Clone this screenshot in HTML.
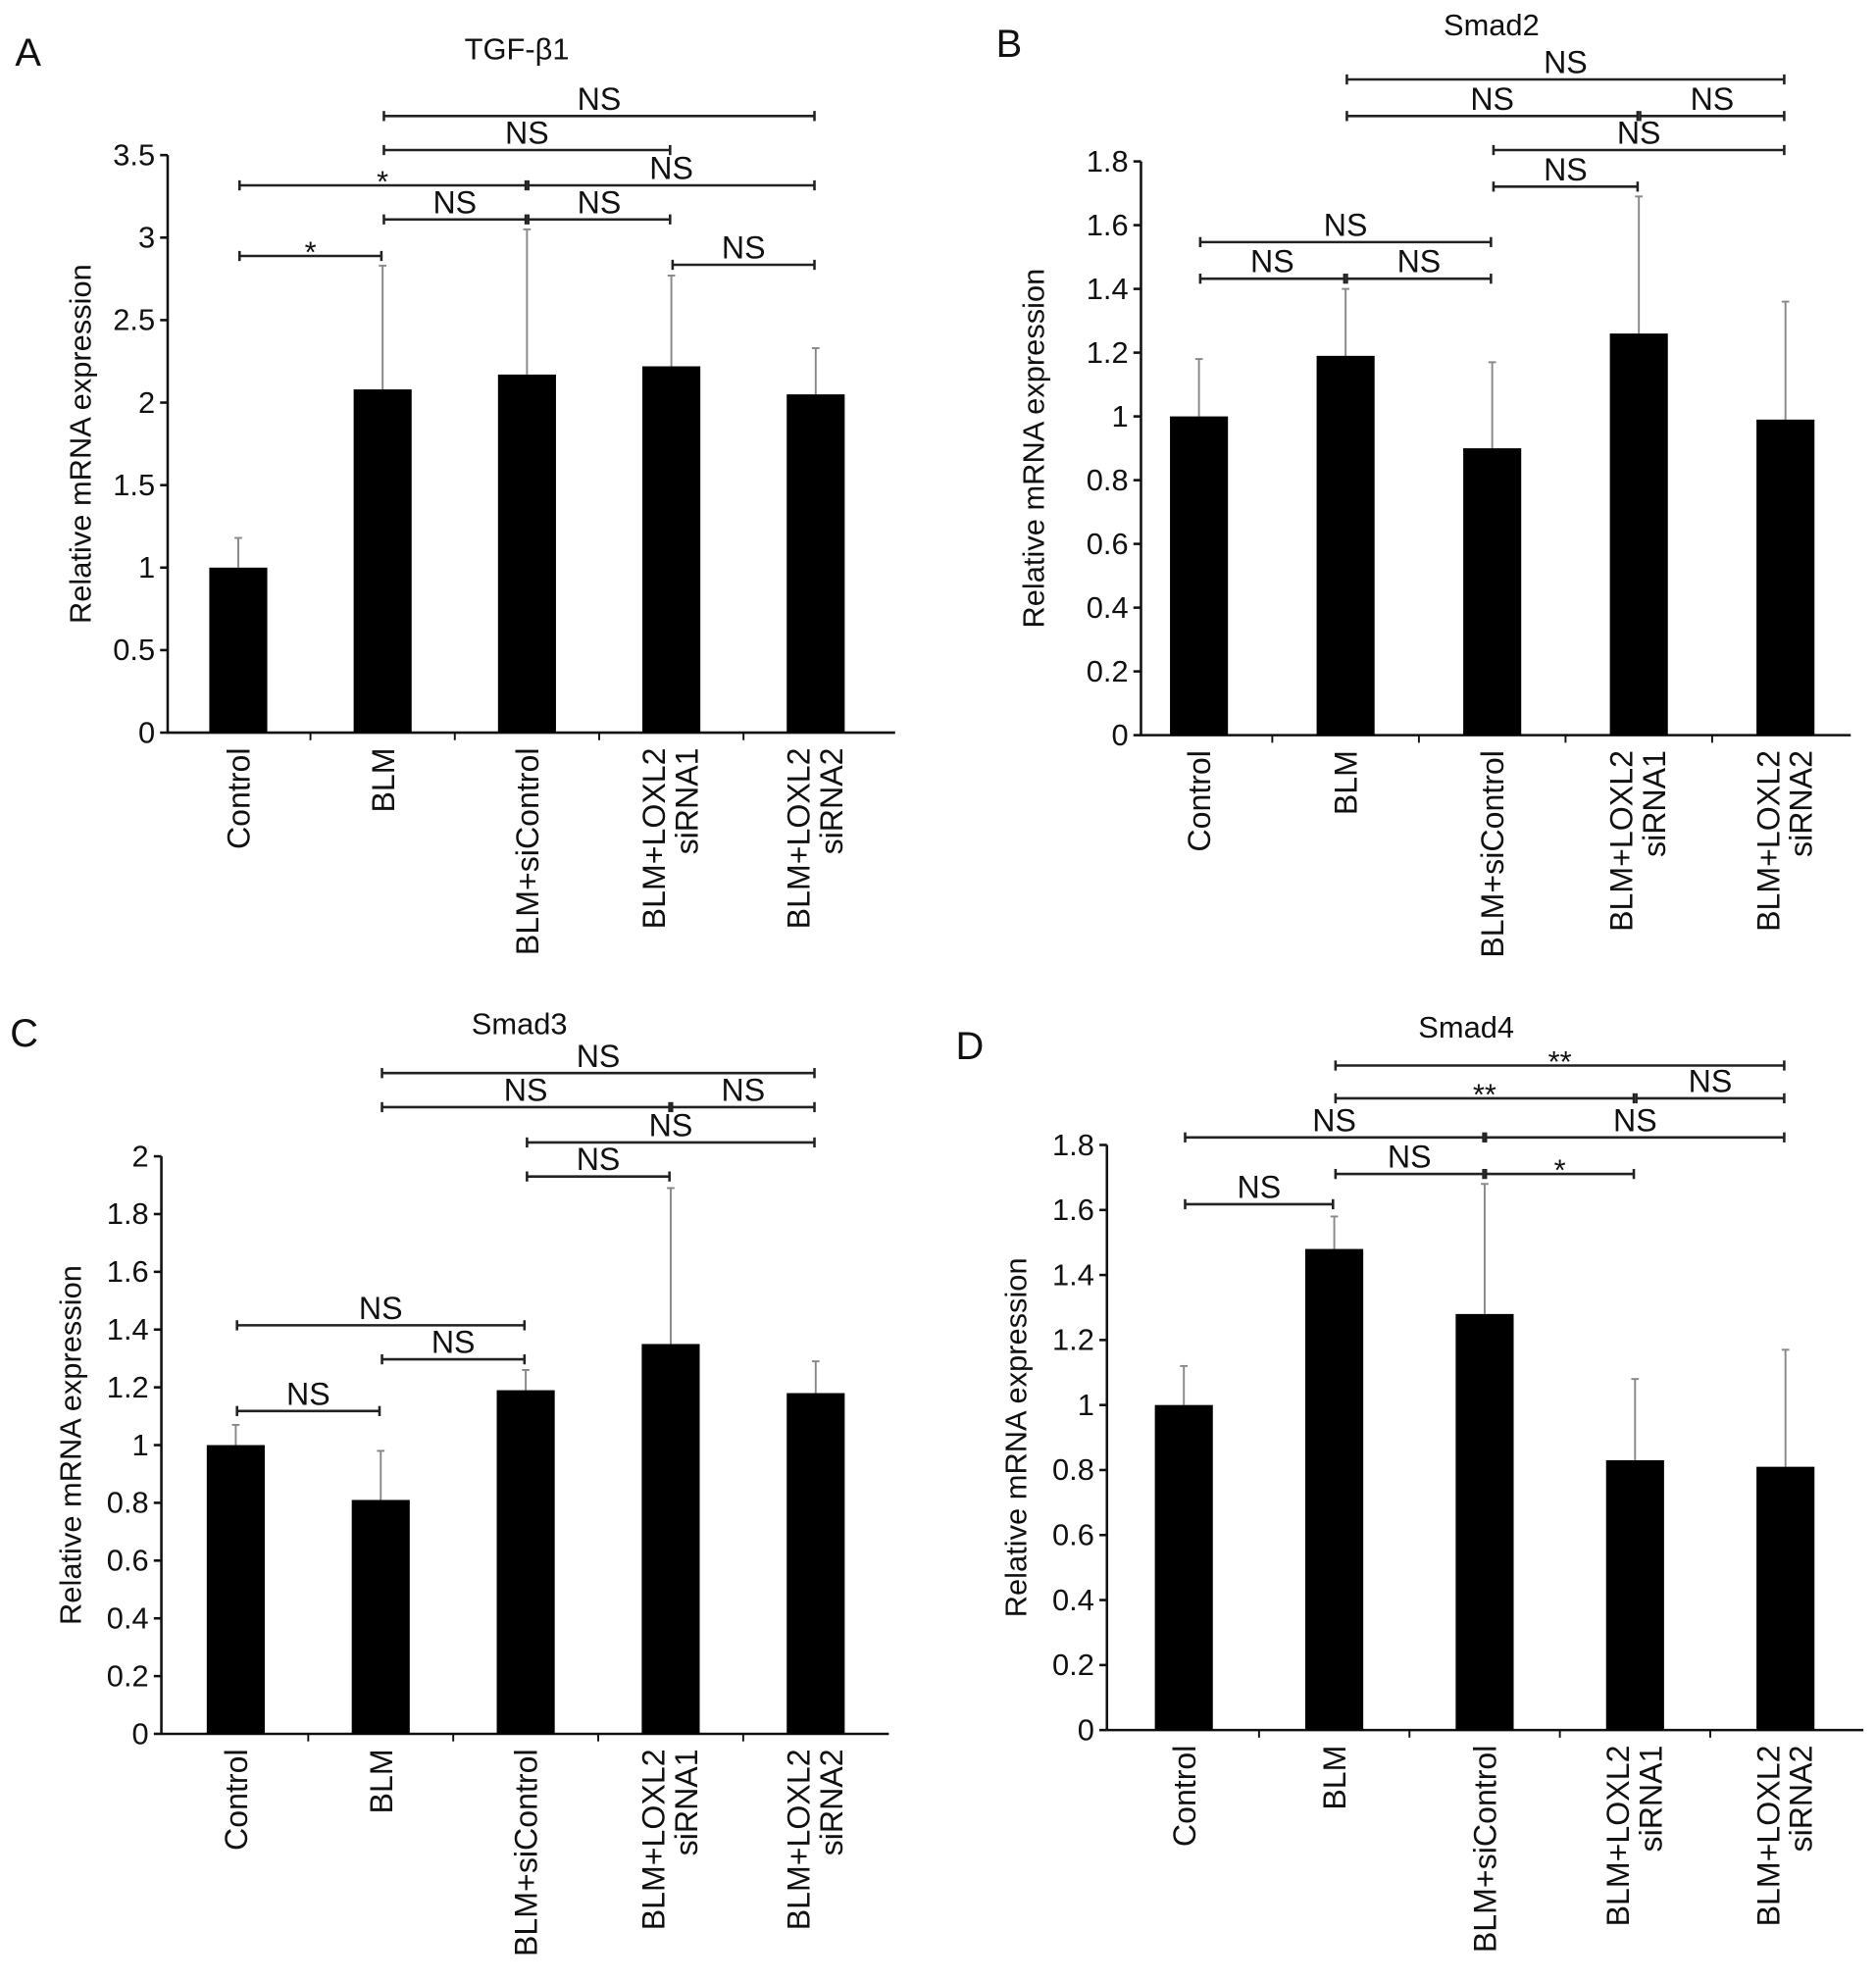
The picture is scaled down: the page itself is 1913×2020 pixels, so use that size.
<!DOCTYPE html>
<html><head><meta charset="utf-8"><style>
html,body{margin:0;padding:0;background:#fff}
svg{display:block}
text{font-family:"Liberation Sans",Arial,sans-serif;fill:#111}
</style></head><body>
<svg id="fig" width="1913" height="2020" viewBox="0 0 1488 1571" preserveAspectRatio="none" xmlns="http://www.w3.org/2000/svg"></svg>
<script>
const categories = ["Control","BLM","BLM+siControl","BLM+LOXL2|siRNA1","BLM+LOXL2|siRNA2"];
const valuesA = [1.0, 2.08, 2.17, 2.22, 2.05];
const errTopA = [1.18, 2.83, 3.05, 2.77, 2.33];
const ticksA = [0,0.5,1,1.5,2,2.5,3,3.5];
const sigA = [[0,1,"*",203],[0,2,"*",147],[1,2,"NS",174],[2,3,"NS",174],[2,4,"NS",147],[1,3,"NS",119],[1,4,"NS",92],[3,4,"NS",210]];
const valuesB = [1.0, 1.19, 0.9, 1.26, 0.99];
const errTopB = [1.18, 1.40, 1.17, 1.69, 1.36];
const ticksB = [0,0.2,0.4,0.6,0.8,1,1.2,1.4,1.6,1.8];
const sigB = [[0,2,"NS",192],[0,1,"NS",221],[1,2,"NS",221],[2,3,"NS",148],[2,4,"NS",119],[1,3,"NS",92],[3,4,"NS",92],[1,4,"NS",63]];
const valuesC = [1.0, 0.81, 1.19, 1.35, 1.18];
const errTopC = [1.07, 0.98, 1.26, 1.89, 1.29];
const ticksC = [0,0.2,0.4,0.6,0.8,1,1.2,1.4,1.6,1.8,2];
const sigC = [[0,1,"NS",1119],[1,2,"NS",1078],[0,2,"NS",1051],[2,3,"NS",933],[2,4,"NS",906],[1,3,"NS",878],[3,4,"NS",878],[1,4,"NS",851]];
const valuesD = [1.0, 1.48, 1.28, 0.83, 0.81];
const errTopD = [1.12, 1.58, 1.68, 1.08, 1.17];
const ticksD = [0,0.2,0.4,0.6,0.8,1,1.2,1.4,1.6,1.8];
const sigD = [[0,1,"NS",955],[1,2,"NS",931],[2,3,"*",931],[0,2,"NS",902],[2,4,"NS",902],[1,3,"**",871],[3,4,"NS",871],[1,4,"**",845]];

const NS="http://www.w3.org/2000/svg";
const svg=document.getElementById('fig');
function mk(tag,attrs,parent,txt){const e=document.createElementNS(NS,tag);for(const k in attrs)e.setAttribute(k,attrs[k]);if(txt!==undefined)e.textContent=txt;(parent||svg).appendChild(e);return e;}

function panel(cfg){
  const g=mk('g',{});
  
  
  const ymax=cfg.ticks[cfg.ticks.length-1];
  const y=v=>cfg.y0-(v/ymax)*(cfg.y0-cfg.yTop);
  const x=i=>cfg.x0+cfg.first+i*cfg.step;
  const L=mk('text',{x:cfg.lx,y:cfg.ly,'font-size':31},g,cfg.letter);
  
  const T=mk('text',{x:cfg.tx,y:cfg.ty,'font-size':24,'text-anchor':'middle'},g,cfg.title);
  
  const ya=mk('line',{x1:cfg.x0,y1:y(ymax),x2:cfg.x0,y2:cfg.y0,stroke:'#111','stroke-width':2},g);
  
  const xa=mk('line',{x1:cfg.x0,y1:cfg.y0,x2:cfg.x1,y2:cfg.y0,stroke:'#111','stroke-width':2},g);
  
  cfg.ticks.forEach(t=>{
    mk('line',{x1:cfg.x0-6,y1:y(t),x2:cfg.x0,y2:y(t),stroke:'#111','stroke-width':2},g);
    const tl=mk('text',{x:cfg.x0-10,y:y(t)+8,'font-size':24,'text-anchor':'end'},g,String(t));
    
  });
  for(let i=1;i<categories.length;i++){
    const bx=x(i)-cfg.step/2;
    mk('line',{x1:bx,y1:cfg.y0,x2:bx,y2:cfg.y0+6,stroke:'#111','stroke-width':1.5},g);
  }
  const yt=mk('text',{x:0,y:0,'font-size':24,'text-anchor':'middle',transform:`translate(${cfg.ytx},${(cfg.y0+y(ymax))/2}) rotate(-90)`},g,'Relative mRNA expression');
  
  cfg.values.forEach((v,i)=>{
    const cx=x(i);
    const e=mk('line',{x1:cx,y1:y(cfg.err[i]),x2:cx,y2:y(v),stroke:'#888','stroke-width':1.5},g);
    
    mk('line',{x1:cx-3,y1:y(cfg.err[i]),x2:cx+3,y2:y(cfg.err[i]),stroke:'#888','stroke-width':1.5},g);
    const b=mk('rect',{x:cx-23,y:y(v),width:46,height:cfg.y0-y(v),fill:'#000'},g);
    
    const parts=categories[i].split('|');
    parts.forEach((p,k)=>{
      const off = parts.length===1 ? 9 : (k===0?-5:21);
      const t=mk('text',{x:0,y:0,'font-size':25,'text-anchor':'end',transform:`translate(${cx+off},${cfg.y0+12}) rotate(-90)`},g,p);
      
    });
  });
  cfg.sig.forEach(s=>{
    const a=x(s[0]),b=x(s[1]),yy=s[3];
    const br=mk('g',{},g);
    
    mk('line',{x1:a+1,y1:yy,x2:b-1,y2:yy,stroke:'#222','stroke-width':2},br);
    mk('line',{x1:a+1,y1:yy-4,x2:a+1,y2:yy+4,stroke:'#222','stroke-width':2},br);
    mk('line',{x1:b-1,y1:yy-4,x2:b-1,y2:yy+4,stroke:'#222','stroke-width':2},br);
    const star=s[2].indexOf('*')>=0;
    mk('text',{x:(a+b)/2,y:star?yy+5:yy-5,'font-size':star?24:25,'text-anchor':'middle',fill:star?'#555':'#111'},br,s[2]);
  });
}
panel({letter:'A',lx:12,ly:52,title:'TGF-β1',tx:410,ty:47,x0:133,x1:710,y0:581,yTop:123,first:56,step:114.5,ticks:ticksA,values:valuesA,err:errTopA,sig:sigA,ytx:72});
panel({letter:'B',lx:790,ly:45,title:'Smad2',tx:1183,ty:28,x0:905,x1:1468,y0:583,yTop:128,first:46,step:116.3,ticks:ticksB,values:valuesB,err:errTopB,sig:sigB,ytx:828});
panel({letter:'C',lx:8,ly:830,title:'Smad3',tx:412,ty:820,x0:128,x1:705,y0:1375,yTop:917,first:59,step:115,ticks:ticksC,values:valuesC,err:errTopC,sig:sigC,ytx:64});
panel({letter:'D',lx:758,ly:840,title:'Smad4',tx:1163,ty:823,x0:878,x1:1478,y0:1372,yTop:908,first:61,step:119.3,ticks:ticksD,values:valuesD,err:errTopD,sig:sigD,ytx:814});
</script>
</body></html>
